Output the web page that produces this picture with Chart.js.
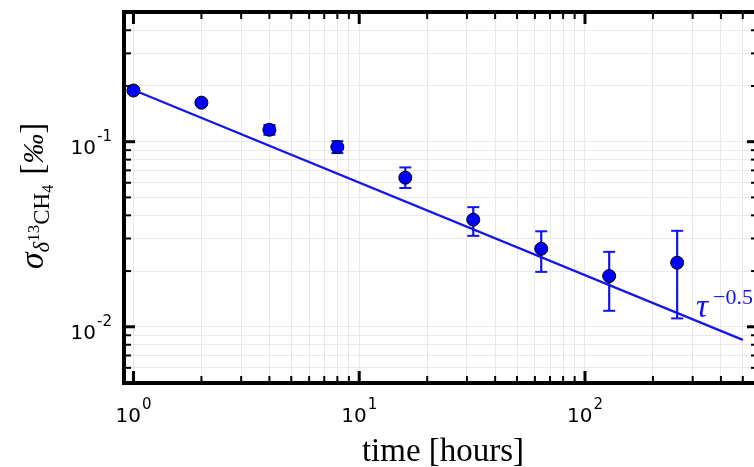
<!DOCTYPE html>
<html>
<head>
<meta charset="utf-8">
<script src="https://cdn.jsdelivr.net/npm/chart.js@4.4.1/dist/chart.umd.min.js"></script>
<style>
    html, body { margin: 0; padding: 0; background: #fff; overflow: hidden; }
    #wrap { position: absolute; left: 0; top: 0; width: 770px; height: 467px; }
</style>
</head>
<body>
<div id="wrap"><canvas id="sigmaChart"></canvas></div>
<script>
// measured Allan-type deviation vs averaging time
const hours = [1, 2, 4, 8, 16, 32, 64, 128, 256];
const sigma = [0.189, 0.1625, 0.116, 0.0936, 0.0639, 0.0379, 0.0264, 0.0188, 0.0222];
const sigmaLow = [0.184, 0.158, 0.109, 0.0868, 0.0562, 0.031, 0.0198, 0.0122, 0.0111];
const sigmaHigh = [0.194, 0.167, 0.123, 0.1007, 0.0726, 0.0443, 0.0328, 0.0254, 0.033];

// tau^-0.5 reference line
const fitHours = [1, 500];
const fitSigma = [0.19, 0.0085];

// axis ticks
const xMajorTicks = [1, 10, 100];
const xMinorTicks = [2, 3, 4, 5, 6, 7, 8, 9, 20, 30, 40, 50, 60, 70, 80, 90, 200, 300, 400, 500];
const xTickExp = ['0', '1', '2'];
const yMajorTicks = [0.01, 0.1];
const yMinorTicks = [0.005, 0.006, 0.007, 0.008, 0.009, 0.02, 0.03, 0.04, 0.05, 0.06, 0.07, 0.08, 0.09, 0.2, 0.3, 0.4, 0.5];
const yTickExp = ['-2', '-1'];

const blue = '#1414f0';

function seg(ctx, x1, y1, x2, y2, w) {
    ctx.lineWidth = w;
    ctx.beginPath();
    ctx.moveTo(x1, y1);
    ctx.lineTo(x2, y2);
    ctx.stroke();
}

function powLabel(ctx, exp, x, y, align) {
    ctx.font = '20px "DejaVu Sans"';
    const wb = ctx.measureText('10').width;
    ctx.font = '15px "DejaVu Sans"';
    const we = ctx.measureText(exp).width;
    const total = wb + we + 1;
    const x0 = align === 'right' ? x - total : x - total / 2;
    ctx.textAlign = 'left';
    ctx.textBaseline = 'alphabetic';
    ctx.font = '20px "DejaVu Sans"';
    ctx.fillText('10', x0, y);
    ctx.font = '15px "DejaVu Sans"';
    ctx.fillText(exp, x0 + wb + 1, y - 13);
}

function drawRuns(ctx, runs, cx, cy) {
    let total = 0;
    runs.forEach(r => {
        ctx.font = r.font;
        r.w = (r.text ? ctx.measureText(r.text).width : 0) + (r.gap || 0);
        total += r.w;
    });
    let x = cx - total / 2;
    ctx.textAlign = 'left';
    ctx.textBaseline = 'alphabetic';
    runs.forEach(r => {
        ctx.font = r.font;
        if (r.text) ctx.fillText(r.text, x, cy + (r.dy || 0));
        x += r.w;
    });
}

const decorations = {
    id: 'decorations',
    afterDatasetDraw(chart, args) {
        if (args.index !== 1) return;
        // error bars between the line and the markers
        const ctx = chart.ctx;
        const xs = chart.scales.x, ys = chart.scales.y;
        ctx.save();
        ctx.strokeStyle = blue;
        hours.forEach((h, i) => {
            const px = xs.getPixelForValue(h);
            const lo = ys.getPixelForValue(sigmaLow[i]);
            const hi = ys.getPixelForValue(sigmaHigh[i]);
            seg(ctx, px, lo, px, hi, 2.2);
            seg(ctx, px - 6, lo, px + 6, lo, 2);
            seg(ctx, px - 6, hi, px + 6, hi, 2);
        });
        ctx.restore();
    },
    afterDraw(chart) {
        const ctx = chart.ctx;
        const a = chart.chartArea;
        const xs = chart.scales.x, ys = chart.scales.y;
        ctx.save();
        ctx.strokeStyle = '#000';
        ctx.fillStyle = '#000';
        ctx.lineCap = 'butt';

        // inward ticks
        xMajorTicks.forEach(v => {
            const p = xs.getPixelForValue(v);
            seg(ctx, p, a.bottom, p, a.bottom - 12, 3);
            seg(ctx, p, a.top, p, a.top + 12, 3);
        });
        xMinorTicks.forEach(v => {
            const p = xs.getPixelForValue(v);
            seg(ctx, p, a.bottom, p, a.bottom - 7, 2);
            seg(ctx, p, a.top, p, a.top + 7, 2);
        });
        yMajorTicks.forEach(v => {
            const p = ys.getPixelForValue(v);
            seg(ctx, a.left, p, a.left + 11, p, 3);
            seg(ctx, a.right, p, a.right - 11, p, 3);
        });
        yMinorTicks.forEach(v => {
            const p = ys.getPixelForValue(v);
            seg(ctx, a.left, p, a.left + 7, p, 2);
            seg(ctx, a.right, p, a.right - 7, p, 2);
        });

        // frame
        ctx.lineWidth = 4;
        ctx.lineJoin = 'miter';
        ctx.strokeRect(a.left, a.top, a.right - a.left, a.bottom - a.top);

        // tick labels
        xMajorTicks.forEach((v, i) => powLabel(ctx, xTickExp[i], xs.getPixelForValue(v), a.bottom + 39, 'center'));
        yMajorTicks.forEach((v, i) => powLabel(ctx, yTickExp[i], a.left - 12, ys.getPixelForValue(v) + 12, 'right'));

        // x title
        ctx.font = '33px "Liberation Serif"';
        ctx.textAlign = 'center';
        ctx.textBaseline = 'alphabetic';
        ctx.fillText('time [hours]', 443, 461);

        // y title, rotated
        ctx.save();
        ctx.translate(43, 196);
        ctx.rotate(-Math.PI / 2);
        drawRuns(ctx, [
            { text: 'σ', font: 'italic 34px "Liberation Serif"' },
            { text: 'δ', font: 'italic 23px "Liberation Serif"', dy: 6 },
            { text: '13', font: '17px "Liberation Serif"', dy: -4 },
            { text: 'CH', font: '23px "Liberation Serif"', dy: 6 },
            { text: '4', font: '16px "Liberation Serif"', dy: 10 },
            { text: '', font: '20px "Liberation Serif"', gap: 10 },
            { text: '[', font: '33px "Liberation Serif"' },
            { text: '‰', font: 'italic 30px "Liberation Serif"' },
            { text: ']', font: '33px "Liberation Serif"' }
        ], 0, 0);
        ctx.restore();

        // line annotation
        ctx.fillStyle = blue;
        ctx.textAlign = 'left';
        ctx.font = 'italic 34px "Liberation Serif"';
        ctx.fillText('τ', 696, 317);
        ctx.font = '22px "Liberation Serif"';
        ctx.fillText('−0.5', 713, 304);

        ctx.restore();
    }
};

const allX = xMajorTicks.concat(xMinorTicks).sort((p, q) => p - q);
const allY = yMajorTicks.concat(yMinorTicks).sort((p, q) => p - q);

new Chart(document.getElementById('sigmaChart'), {
    type: 'scatter',
    data: {
        datasets: [
            {
                label: 'measured',
                data: hours.map((h, i) => ({ x: h, y: sigma[i] })),
                pointRadius: 6.5,
                pointBackgroundColor: '#0000ff',
                pointBorderColor: '#000',
                pointBorderWidth: 1,
                showLine: false
            },
            {
                label: 'tau^-0.5',
                data: fitHours.map((h, i) => ({ x: h, y: fitSigma[i] })),
                showLine: true,
                borderColor: blue,
                borderWidth: 2.2,
                pointRadius: 0
            }
        ]
    },
    options: {
        responsive: true,
        maintainAspectRatio: false,
        animation: false,
        devicePixelRatio: 1,
        layout: { padding: { left: 124, top: 12, right: 12, bottom: 84 } },
        plugins: {
            legend: { display: false },
            tooltip: { enabled: false }
        },
        scales: {
            x: {
                type: 'logarithmic',
                min: 0.908,
                max: 584,
                bounds: 'data',
                afterBuildTicks: s => { s.ticks = allX.map(v => ({ value: v })); },
                ticks: { display: false },
                grid: { color: '#e8e8e8', lineWidth: 1, drawTicks: false },
                border: { display: false }
            },
            y: {
                type: 'logarithmic',
                min: 0.00497,
                max: 0.502,
                bounds: 'data',
                afterBuildTicks: s => { s.ticks = allY.map(v => ({ value: v })); },
                ticks: { display: false },
                grid: { color: '#e8e8e8', lineWidth: 1, drawTicks: false },
                border: { display: false }
            }
        }
    },
    plugins: [decorations]
});
</script>
</body>
</html>
